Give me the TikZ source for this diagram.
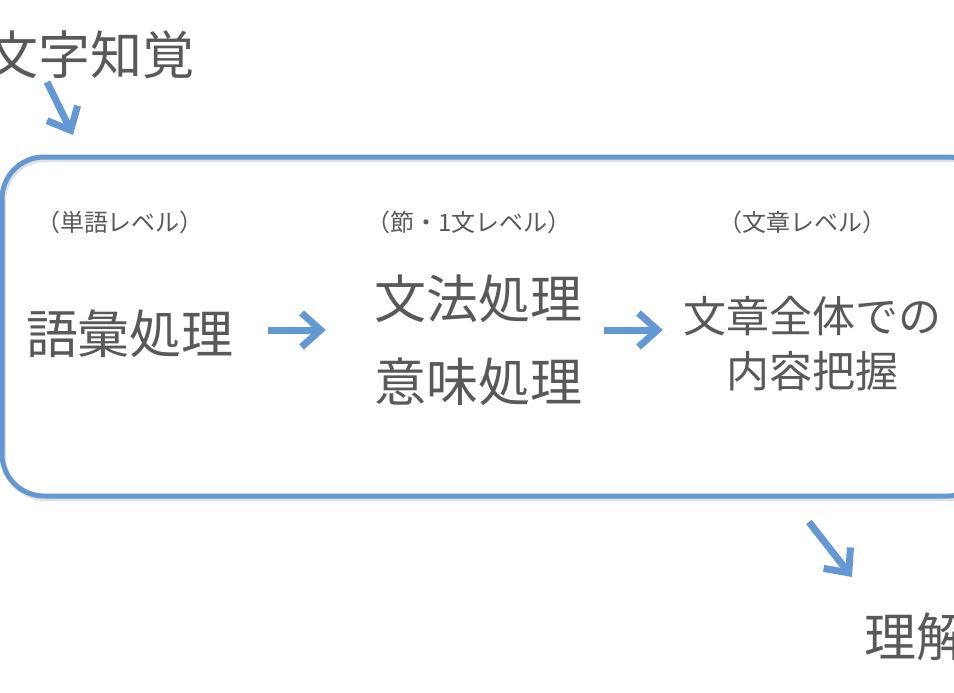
\documentclass[tikz,border=0pt]{standalone}
\usepackage{fontspec}
\usepackage{tikz}
\usetikzlibrary{arrows.meta}
\newfontfamily\jpfont{Noto Sans CJK JP}
\definecolor{flowblue}{RGB}{100,152,212}
\definecolor{txtgray}{RGB}{89,89,89}

\begin{document}
\begin{tikzpicture}[x=1pt,y=-1pt,
  every node/.style={text=txtgray,inner sep=0pt},
  big/.style={font=\jpfont\fontsize{52}{83}\selectfont,align=center},
  mid/.style={font=\jpfont\fontsize{43}{55}\selectfont,align=center},
  lvl/.style={font=\jpfont\fontsize{24}{28}\selectfont},
  flow/.style={draw=flowblue,line width=7pt,
    -{Straight Barb[length=19pt,width=34pt]}},
  frame/.style={draw=flowblue,line width=5pt,rounded corners=42pt}]
  \useasboundingbox (0,0) rectangle (954,693);
  \fill[white] (0,0) rectangle (954,693);
  % soft shadow under the frame
  \draw[frame,draw=black!12,transform canvas={shift={(1.5pt,-2.5pt)}}] (2,157) rectangle (990,496);
  \draw[frame] (2,157) rectangle (990,496);
  \node[big] (per) at (91,55) {文字知覚};
  \node[lvl] (lvlA) at (120,222) {（単語レベル）};
  \node[lvl] (lvlB) at (469,222) {（節・1文レベル）};
  \node[lvl] (lvlC) at (802,222) {（文章レベル）};
  \node[big] (lex) at (130,334) {語彙処理};
  \node[big] (syn) at (478,340) {文法処理\\意味処理};
  \node[mid] (dis) at (812,344) {文章全体での\\内容把握};
  \node[big] (und) at (916,637) {理解};
  \coordinate (inA) at (47,82);
  \coordinate (inB) at (73,135);
  \coordinate (outA) at (809,522);
  \coordinate (outB) at (852,577);
  \draw[flow] (inA) -- (inB);
  \draw[flow,shorten <=34pt,shorten >=48pt] ([yshift=4pt]lex.east) -- ([yshift=4pt]lex.east -| syn.west);
  \draw[flow,shorten <=22pt,shorten >=20pt] ([yshift=4pt]lex.east -| syn.east) -- ([yshift=4pt]lex.east -| dis.west);
  \draw[flow] (outA) -- (outB);
\end{tikzpicture}
\end{document}
